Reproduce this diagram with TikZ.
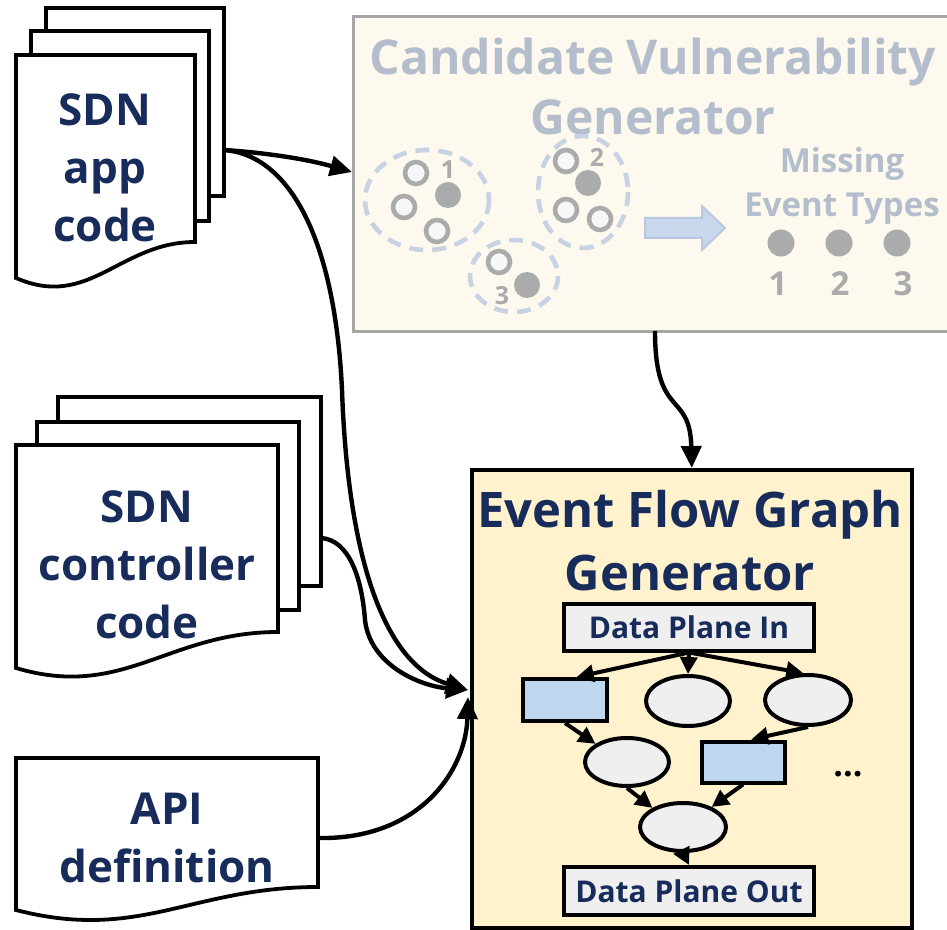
\documentclass[tikz,border=0pt]{standalone}
\usepackage{fontspec}
\setmainfont{Open Sans}
\usetikzlibrary{arrows.meta,shapes.geometric}
\definecolor{navy}{HTML}{172C5B}
\definecolor{fadetext}{HTML}{B3BDCB}
\definecolor{fadegray}{HTML}{ABABAB}
\definecolor{clusterline}{HTML}{C7D3E2}
\definecolor{cvgfill}{HTML}{FDF9EE}
\definecolor{cvgline}{HTML}{A6A6A6}
\definecolor{efgfill}{HTML}{FFF2CC}
\definecolor{gfill}{HTML}{EFEFEF}
\definecolor{bfill}{HTML}{BDD7EE}
\definecolor{arrowfill}{HTML}{C9D8EC}
\definecolor{arrowedge}{HTML}{B7C9E0}

% one sheet of a document with a wavy lower edge:
% left x, top y, right x, lower-left y, lower-right y
\newcommand\docsheet[5]{%
  \pgfmathsetmacro\dw{#3-#1}%
  \filldraw[docline] (#1,#2) -- (#3,#2) -- (#3,#5)
    .. controls ({#1+0.58*\dw},#5) and ({#1+0.41*\dw},{#4+32}) .. (#1,#4) -- cycle;}

\begin{document}
\begin{tikzpicture}[x=0.5pt,y=-0.5pt,
  docline/.style={draw=black,fill=white,line width=1.9pt},
  doctext/.style={text=navy,font=\bfseries\fontsize{22}{29}\selectfont,align=center},
  conn/.style={draw=black,line width=2.2pt,-{Triangle[length=11pt,width=10pt]}},
  gconn/.style={draw=black,line width=2pt,-{Triangle[length=8.5pt,width=8.5pt]}},
  gbox/.style={draw=black,line width=2pt,fill=gfill,inner sep=0pt,
    text=navy,font=\bfseries\fontsize{15}{18}\selectfont,
    minimum width=125pt,minimum height=23.5pt},
  bbox/.style={draw=black,line width=2pt,fill=bfill,inner sep=0pt,
    minimum width=42pt,minimum height=21pt},
  gell/.style={ellipse,draw=black,line width=2pt,fill=gfill,inner sep=0pt,
    minimum width=42pt,minimum height=25pt},
  cluster/.style={draw=clusterline,line width=2.3pt,dash pattern=on 7pt off 4.5pt},
  ocirc/.style={draw=fadegray,fill=white!97!black,line width=2.3pt},
  gdot/.style={fill=fadegray},
  smallnum/.style={text=fadegray,font=\bfseries\fontsize{12.5}{14}\selectfont,inner sep=0pt},
  fadelabel/.style={text=fadetext,font=\bfseries\fontsize{16.5}{22}\selectfont,align=center},
  numlabel/.style={text=fadegray,font=\bfseries\fontsize{16.5}{20}\selectfont,inner sep=0pt}
]
\useasboundingbox (0,0) rectangle (947,930);
\clip (0,0) rectangle (947,930);

% ---------- input documents ----------
\draw[docline] (46,8) rectangle (224,196);
\draw[docline] (31,31) rectangle (209,221);
\docsheet{16}{55}{195}{278}{242}
\node[doctext] (app) at (105,168) {SDN\\app\\code};

\draw[docline] (58,397) rectangle (321,586);
\draw[docline] (37,422) rectangle (299,610);
\docsheet{16}{445}{278}{668}{632}
\node[doctext] (ctl) at (147,565) {SDN\\controller\\code};

\docsheet{16}{758}{318}{910}{887}
\node[doctext] (api) at (167,838) {API\\definition};

% ---------- candidate vulnerability generator (faded) ----------
\node[draw=cvgline,fill=cvgfill,line width=1.5pt,minimum width=310pt,
  minimum height=157.5pt,inner sep=0pt,anchor=north west] (cvg) at (352,15) {};
\node[text=fadetext,font=\bfseries\fontsize{24}{30}\selectfont,align=center]
  (cvgtitle) at (653,87) {Candidate Vulnerability\\Generator};

% cluster 1
\draw[cluster] (427,200) ellipse [x radius=62,y radius=50];
\draw[ocirc] (416,173) circle[radius=11];
\fill[gdot] (448,195) circle[radius=13];
\draw[ocirc] (404,207) circle[radius=11];
\draw[ocirc] (437,231) circle[radius=11];
\node[smallnum] (n1) at (448,170) {1};
% cluster 2
\draw[cluster] (583,192) ellipse [x radius=45,y radius=56];
\draw[ocirc] (566,161) circle[radius=11];
\fill[gdot] (588,183) circle[radius=13];
\draw[ocirc] (566,210) circle[radius=11];
\draw[ocirc] (600,219) circle[radius=11];
\node[smallnum] (n2) at (597,157) {2};
% cluster 3
\draw[cluster] (514,276) ellipse [x radius=44,y radius=36];
\draw[ocirc] (499,262) circle[radius=11];
\fill[gdot] (527,285) circle[radius=13];
\node[smallnum] (n3) at (502,296) {3};

% block arrow
\filldraw[fill=arrowfill,draw=arrowedge,line width=1pt]
  (645,218) -- (702,218) -- (702,206) -- (725,228) -- (702,250) -- (702,238) -- (645,238) -- cycle;

\node[fadelabel] (missing) at (842,186) {Missing\\Event Types};
\fill[gdot] (781,243) circle[radius=13.5];
\fill[gdot] (839,243) circle[radius=13.5];
\fill[gdot] (897,243) circle[radius=13.5];
\node[numlabel] (m1) at (778,284) {1};
\node[numlabel] (m2) at (840,284) {2};
\node[numlabel] (m3) at (903,284) {3};

% ---------- event flow graph generator ----------
\node[draw=black,line width=1.8pt,fill=efgfill,minimum width=220pt,
  minimum height=229pt,inner sep=0pt,anchor=north west] (efg) at (470,468) {};
\node[text=navy,font=\bfseries\fontsize{24.5}{31.5}\selectfont,align=center]
  (efgtitle) at (690,541) {Event Flow Graph\\Generator};

\node[gbox] (dpi) at (689,627) {Data Plane In};
\node[bbox] (r1) at (565,700) {};
\node[gell] (e1) at (688,701) {};
\node[gell,minimum width=43pt] (e2) at (808,700) {};
\node[gell,minimum height=24pt] (e3) at (627,762) {};
\node[bbox,minimum width=41.5pt,minimum height=20.5pt] (r2) at (743,762) {};
\node[gell,minimum width=43pt,minimum height=24pt] (e4) at (683,827) {};
\node[gbox,minimum height=24pt] (dpo) at (689,891) {Data Plane Out};
\node[font=\bfseries\fontsize{17}{18}\selectfont] (more) at (848,774) {...};

\draw[gconn] (dpi.south) -- (r1.63);
\draw[gconn] (dpi.south) -- (e1.north);
\draw[gconn] (dpi.south) -- (e2.100);
\draw[gconn] (r1.south) -- (e3.150);
\draw[gconn] (e2.south) -- (r2.70);
\draw[gconn] (e3.south) -- (e4.148);
\draw[gconn] (r2.south) -- (e4.35);
\draw[gconn] (e4.south) -- (dpo.north);

% ---------- connectors ----------
\coordinate (appout) at (224,150);
\coordinate (ctlout) at (321,538);
\coordinate (apiout) at (318,838);
\coordinate (cvgin) at (352,172);
\coordinate (cvgout) at (655,331);
\coordinate (efgin) at (468,690);
\coordinate (efgin2) at (468,697);

\draw[conn] (appout) .. controls (270,153) and (310,160) .. (cvgin);
\draw[conn] (appout) .. controls (290,155) and (335,240) .. (342,390)
  .. controls (348,560) and (385,665) .. (efgin);
\draw[conn] (ctlout) .. controls (350,540) and (362,580) .. (365,620)
  .. controls (370,665) and (420,686) .. (efgin);
\draw[conn] (apiout) .. controls (420,840) and (466,770) .. (efgin2);
\draw[conn] (cvgout) .. controls (655,420) and (690,390) .. (efg.north);
\end{tikzpicture}
\end{document}
